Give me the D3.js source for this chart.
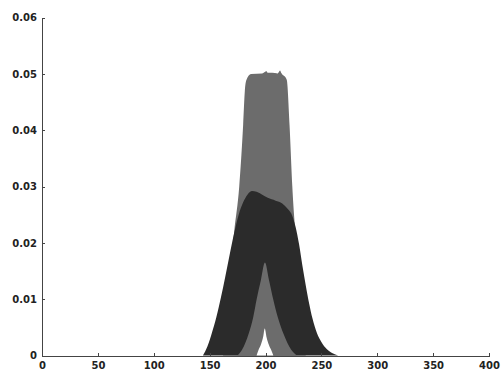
<!DOCTYPE html>
<meta charset="utf-8">
<style>
body { margin: 0; background: #fff; }
.axis path, .axis line { fill: none; stroke: #444; shape-rendering: crispEdges; }
.axis text { font: bold 10px "DejaVu Sans", sans-serif; fill: #222; }
</style>
<svg width="501" height="373"></svg>
<script src="https://d3js.org/d3.v7.min.js"></script>
<script>

// tall grey plateau
var plateauX = [162, 167, 172, 176.5, 180, 181.5, 183, 187, 197, 201, 202, 206, 211, 213, 214, 219, 221.5, 224, 228, 232, 236];
var plateauY = [0, 0.012, 0.022, 0.030, 0.041, 0.047, 0.049, 0.0500, 0.0501, 0.0505, 0.0502, 0.0502, 0.0501, 0.0506, 0.0502, 0.049, 0.041, 0.030, 0.019, 0.009, 0];

// dark lower hump
var humpX = [144, 148, 152, 156, 160, 164, 168, 172, 176, 180, 184, 188, 192, 196, 202, 209, 215, 220, 224, 227, 230, 233, 236, 239, 242, 246, 250, 255, 260, 265];
var humpY = [0, 0.0016, 0.004, 0.0068, 0.0102, 0.014, 0.018, 0.0218, 0.025, 0.0272, 0.0286, 0.0292, 0.0291, 0.0287, 0.028, 0.0275, 0.027, 0.026, 0.0248, 0.0228, 0.0198, 0.016, 0.0125, 0.0093, 0.0066, 0.004, 0.0024, 0.0011, 0.0004, 0];

// grey wedge showing through the hump
var wedgeX = [175, 179, 185, 189, 192, 196, 199.5, 203, 207, 211, 216, 223, 228];
var wedgeY = [0, 0.001, 0.0039, 0.0068, 0.0099, 0.0135, 0.0165, 0.0135, 0.0099, 0.0068, 0.0039, 0.001, 0];

// white notch at the centre
var notchX = [192, 194, 196, 198, 199.3, 201, 203, 205, 207];
var notchY = [0, 0.0011, 0.002, 0.0034, 0.0048, 0.0032, 0.0019, 0.001, 0];

var xTicks = [0, 50, 100, 150, 200, 250, 300, 350, 400];
var yTicks = [0, 0.01, 0.02, 0.03, 0.04, 0.05, 0.06];

var svg = d3.select("svg");

var x = d3.scaleLinear().domain([0, 400]).range([42, 489]);
var y = d3.scaleLinear().domain([0, 0.06]).range([355.5, 17.7]);

function pts(xs, ys) {
  return xs.map(function(v, i) { return [v, ys[i]]; });
}

var area = d3.area()
    .x(function(d) { return x(d[0]); })
    .y0(y(0))
    .y1(function(d) { return y(d[1]); })
    .curve(d3.curveMonotoneX);

svg.append("path").datum(pts(plateauX, plateauY)).attr("fill", "#6c6c6c").attr("d", area);
svg.append("path").datum(pts(humpX, humpY)).attr("fill", "#2b2b2b").attr("d", area);
svg.append("path").datum(pts(wedgeX, wedgeY)).attr("fill", "#6c6c6c").attr("d", area);
svg.append("path").datum(pts(notchX, notchY)).attr("fill", "#fff").attr("d", area);

svg.append("g")
    .attr("class", "axis")
    .attr("transform", "translate(0," + y(0) + ")")
    .call(d3.axisBottom(x).tickValues(xTicks).tickSizeInner(-3).tickSizeOuter(0).tickPadding(6));

svg.append("g")
    .attr("class", "axis")
    .attr("transform", "translate(" + x(0) + ",0)")
    .call(d3.axisLeft(y).tickValues(yTicks).tickSizeInner(-3).tickSizeOuter(0).tickPadding(5)
      .tickFormat(function(d) { return d === 0 ? "0" : d3.format(".2f")(d); }));

</script>
